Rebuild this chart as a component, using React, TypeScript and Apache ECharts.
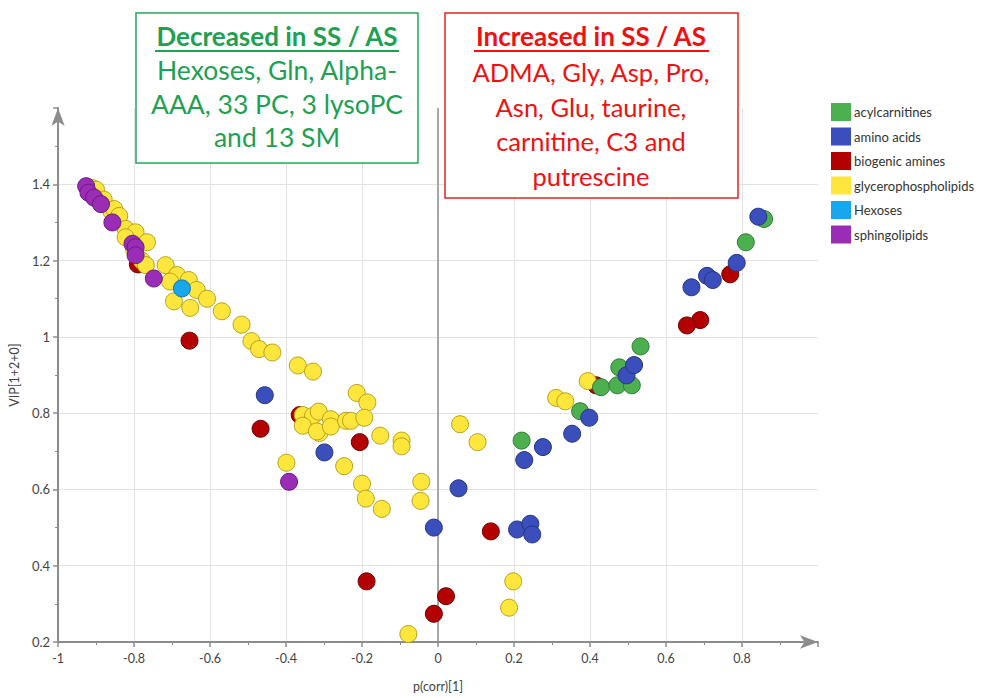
import React, { useEffect, useRef } from "react";
import * as echarts from "echarts";

const categories = [
  "acylcarnitines",
  "amino acids",
  "biogenic amines",
  "glycerophospholipids",
  "Hexoses",
  "sphingolipids",
];

const acylcarnitines: number[][] = [
  [0.22, 0.728], [0.374, 0.805], [0.429, 0.868], [0.472, 0.873], [0.477, 0.92],
  [0.51, 0.873], [0.533, 0.975], [0.81, 1.248], [0.858, 1.309],
];

const aminoAcids: number[][] = [
  [-0.456, 0.847], [-0.299, 0.697], [-0.011, 0.5], [0.054, 0.603], [0.208, 0.495],
  [0.243, 0.51], [0.248, 0.482], [0.227, 0.677], [0.276, 0.711], [0.353, 0.746],
  [0.398, 0.788], [0.496, 0.899], [0.516, 0.926], [0.667, 1.13], [0.708, 1.16],
  [0.723, 1.149], [0.786, 1.194], [0.843, 1.315],
];

const biogenicAmines: number[][] = [
  [-0.79, 1.19], [-0.654, 0.99], [-0.364, 0.795], [-0.467, 0.759], [-0.206, 0.724],
  [-0.188, 0.359], [0.021, 0.32], [-0.011, 0.274], [0.139, 0.49], [0.416, 0.873],
  [0.769, 1.164], [0.69, 1.044], [0.655, 1.03],
];

const glycerophospholipids: number[][] = [
  [-0.91, 1.39], [-0.9, 1.386], [-0.88, 1.36], [-0.86, 1.33], [-0.852, 1.335],
  [-0.839, 1.317], [-0.822, 1.283], [-0.796, 1.274], [-0.766, 1.248], [-0.822, 1.261],
  [-0.8, 1.23], [-0.78, 1.2], [-0.769, 1.188], [-0.717, 1.188], [-0.687, 1.162],
  [-0.705, 1.145], [-0.656, 1.149], [-0.635, 1.123], [-0.695, 1.093], [-0.652, 1.076],
  [-0.608, 1.1], [-0.569, 1.067], [-0.517, 1.032],
  [-0.491, 0.989], [-0.471, 0.968], [-0.436, 0.959], [-0.369, 0.925], [-0.329, 0.909],
  [-0.214, 0.853], [-0.186, 0.828], [-0.356, 0.795], [-0.329, 0.793], [-0.314, 0.804],
  [-0.356, 0.767], [-0.312, 0.748], [-0.319, 0.752], [-0.282, 0.784], [-0.282, 0.765],
  [-0.242, 0.78], [-0.229, 0.78], [-0.194, 0.788], [-0.152, 0.741], [-0.096, 0.728],
  [-0.096, 0.713], [-0.399, 0.67], [-0.247, 0.661], [-0.2, 0.615], [-0.19, 0.576],
  [-0.148, 0.549], [-0.044, 0.62], [-0.046, 0.57], [-0.078, 0.221],
  [0.058, 0.771], [0.104, 0.724], [0.311, 0.84], [0.335, 0.831], [0.394, 0.884],
  [0.198, 0.359], [0.187, 0.29],
];

const hexoses: number[][] = [[-0.674, 1.127]];

const sphingolipids: number[][] = [
  [-0.926, 1.395], [-0.92, 1.378], [-0.905, 1.365], [-0.887, 1.348], [-0.857, 1.3],
  [-0.804, 1.244], [-0.796, 1.235], [-0.796, 1.214], [-0.748, 1.153], [-0.392, 0.62],
];

const xTicks = { min: -1, max: 1, interval: 0.2 };
const yTicks = { min: 0.2, max: 1.6, interval: 0.2 };

const decreasedTitle = "Decreased in SS / AS";
const decreasedLines = ["Hexoses, Gln, Alpha-", "AAA, 33 PC, 3 lysoPC", "and 13 SM"];
const increasedTitle = "Increased in SS / AS";
const increasedLines = ["ADMA, Gly, Asp, Pro,", "Asn, Glu, taurine,", "carnitine, C3 and", "putrescine"];

const styles: Record<string, { fill: string; border: string }> = {
  acylcarnitines: { fill: "#4caf50", border: "#2f7d33" },
  "amino acids": { fill: "#3a4fbb", border: "#26357f" },
  "biogenic amines": { fill: "#b30000", border: "#6e0000" },
  glycerophospholipids: { fill: "#ffe63d", border: "#b5a21c" },
  Hexoses: { fill: "#19a7ec", border: "#0b75aa" },
  sphingolipids: { fill: "#9b2cb6", border: "#6a1a80" },
};

const FONT = "Lato, 'Open Sans', sans-serif";

export default function App() {
  const ref = useRef<HTMLDivElement>(null);
  useEffect(() => {
    if (!ref.current) return;
    const chart = echarts.init(ref.current, undefined, { renderer: "svg" });

    const mk = (name: string, data: number[][], extra: any = {}) => ({
      name,
      type: "scatter",
      data,
      symbol: "circle",
      symbolSize: 17,
      itemStyle: {
        color: styles[name].fill,
        borderColor: styles[name].border,
        borderWidth: 1,
        opacity: 1,
      },
      ...extra,
    });

    const textEl = (text: string, x: number, y: number, color: string, bold: boolean, size: number) => ({
      type: "text",
      z: 101,
      style: {
        text,
        x,
        y,
        fill: color,
        fontSize: size,
        fontFamily: FONT,
        fontWeight: bold ? "bold" : "normal",
        align: "center",
        verticalAlign: "middle",
        textAlign: "center",
        textVerticalAlign: "middle",
      },
    });

    const green = "#1fa052";
    const red = "#ee1111";

    const graphics: any[] = [
      {
        type: "rect",
        z: 100,
        shape: { x: 136, y: 13, width: 282, height: 150 },
        style: { fill: "#fff", stroke: "#23a85a", lineWidth: 1.5 },
      },
      {
        type: "rect",
        z: 100,
        shape: { x: 445, y: 13, width: 293, height: 185 },
        style: { fill: "#fff", stroke: "#e42222", lineWidth: 1.5 },
      },
      textEl(decreasedTitle, 277, 36, green, true, 26),
      {
        type: "line",
        z: 101,
        shape: { x1: 155, y1: 51, x2: 399, y2: 51 },
        style: { stroke: green, lineWidth: 2 },
      },
      ...decreasedLines.map((t, i) => textEl(t, 277, 70 + i * 33.5, green, false, 26.5)),
      textEl(increasedTitle, 591, 36, red, true, 26),
      {
        type: "line",
        z: 101,
        shape: { x1: 474, y1: 51, x2: 709, y2: 51 },
        style: { stroke: red, lineWidth: 2 },
      },
      ...increasedLines.map((t, i) => textEl(t, 591, 72 + i * 34.5, red, false, 25.5)),
    ];

    const axisColor = "#8c8c8c";

    chart.setOption({
      animation: false,
      backgroundColor: "#fff",
      grid: { left: 53, right: 178, top: 108, bottom: 49, containLabel: false },
      legend: {
        data: categories,
        orient: "vertical",
        left: 831,
        top: 103,
        icon: "rect",
        itemWidth: 20,
        itemHeight: 18,
        itemGap: 6.5,
        padding: 0,
        itemStyle: { borderWidth: 0 },
        textStyle: { fontSize: 13, color: "#333", fontFamily: FONT, padding: [0, 0, 0, -2] },
      },
      xAxis: {
        type: "value",
        min: xTicks.min,
        max: xTicks.max,
        interval: xTicks.interval,
        name: "p(corr)[1]",
        nameLocation: "middle",
        nameGap: 38,
        nameTextStyle: { fontSize: 12.5, color: "#444", fontFamily: FONT },
        axisLine: {
          show: true,
          onZero: false,
          symbol: ["none", "arrow"],
          symbolSize: [10, 18],
          symbolOffset: [0, 0],
          lineStyle: { color: axisColor, width: 2 },
        },
        axisTick: { show: true, inside: false, length: 5, lineStyle: { color: axisColor, width: 1.5 } },
        minorTick: { show: true, splitNumber: 2, length: 3, lineStyle: { color: axisColor, width: 1 } },
        splitLine: { show: true, showMaxLine: false, lineStyle: { color: "#e2e2e2", width: 1 } },
        axisLabel: {
          fontSize: 12.5,
          color: "#444",
          fontFamily: FONT,
          margin: 10,
          formatter: (v: number) => (v >= 0.99 ? "" : String(+v.toFixed(1))),
        },
      },
      yAxis: {
        type: "value",
        min: yTicks.min,
        max: yTicks.max,
        interval: yTicks.interval,
        name: "VIP[1+2+0]",
        nameLocation: "middle",
        nameGap: 35,
        nameTextStyle: { fontSize: 12.5, color: "#444", fontFamily: FONT },
        axisLine: {
          show: true,
          onZero: false,
          symbol: ["none", "arrow"],
          symbolSize: [10, 18],
          lineStyle: { color: axisColor, width: 2 },
        },
        axisTick: { show: true, inside: false, length: 5, lineStyle: { color: axisColor, width: 1.5 } },
        minorTick: { show: true, splitNumber: 2, length: 3, lineStyle: { color: axisColor, width: 1 } },
        splitLine: { show: true, showMaxLine: false, showMinLine: false, lineStyle: { color: "#e2e2e2", width: 1 } },
        axisLabel: {
          fontSize: 13,
          color: "#444",
          fontFamily: FONT,
          margin: 8,
          formatter: (v: number) => (v >= 1.59 ? "" : String(+v.toFixed(1))),
        },
      },
      series: [
        mk("biogenic amines", biogenicAmines, {
          markLine: {
            silent: true,
            symbol: "none",
            label: { show: false },
            lineStyle: { color: "#8f8f8f", width: 1.5, type: "solid" },
            data: [{ xAxis: 0 }],
            z: 1,
          },
        }),
        mk("glycerophospholipids", glycerophospholipids),
        mk("acylcarnitines", acylcarnitines),
        mk("amino acids", aminoAcids),
        mk("Hexoses", hexoses),
        mk("sphingolipids", sphingolipids),
      ],
      graphic: graphics,
    });
    return () => chart.dispose();
  }, []);
  return <div ref={ref} style={{ width: 996, height: 698, position: "absolute", left: 0, top: 0 }} />;
}
